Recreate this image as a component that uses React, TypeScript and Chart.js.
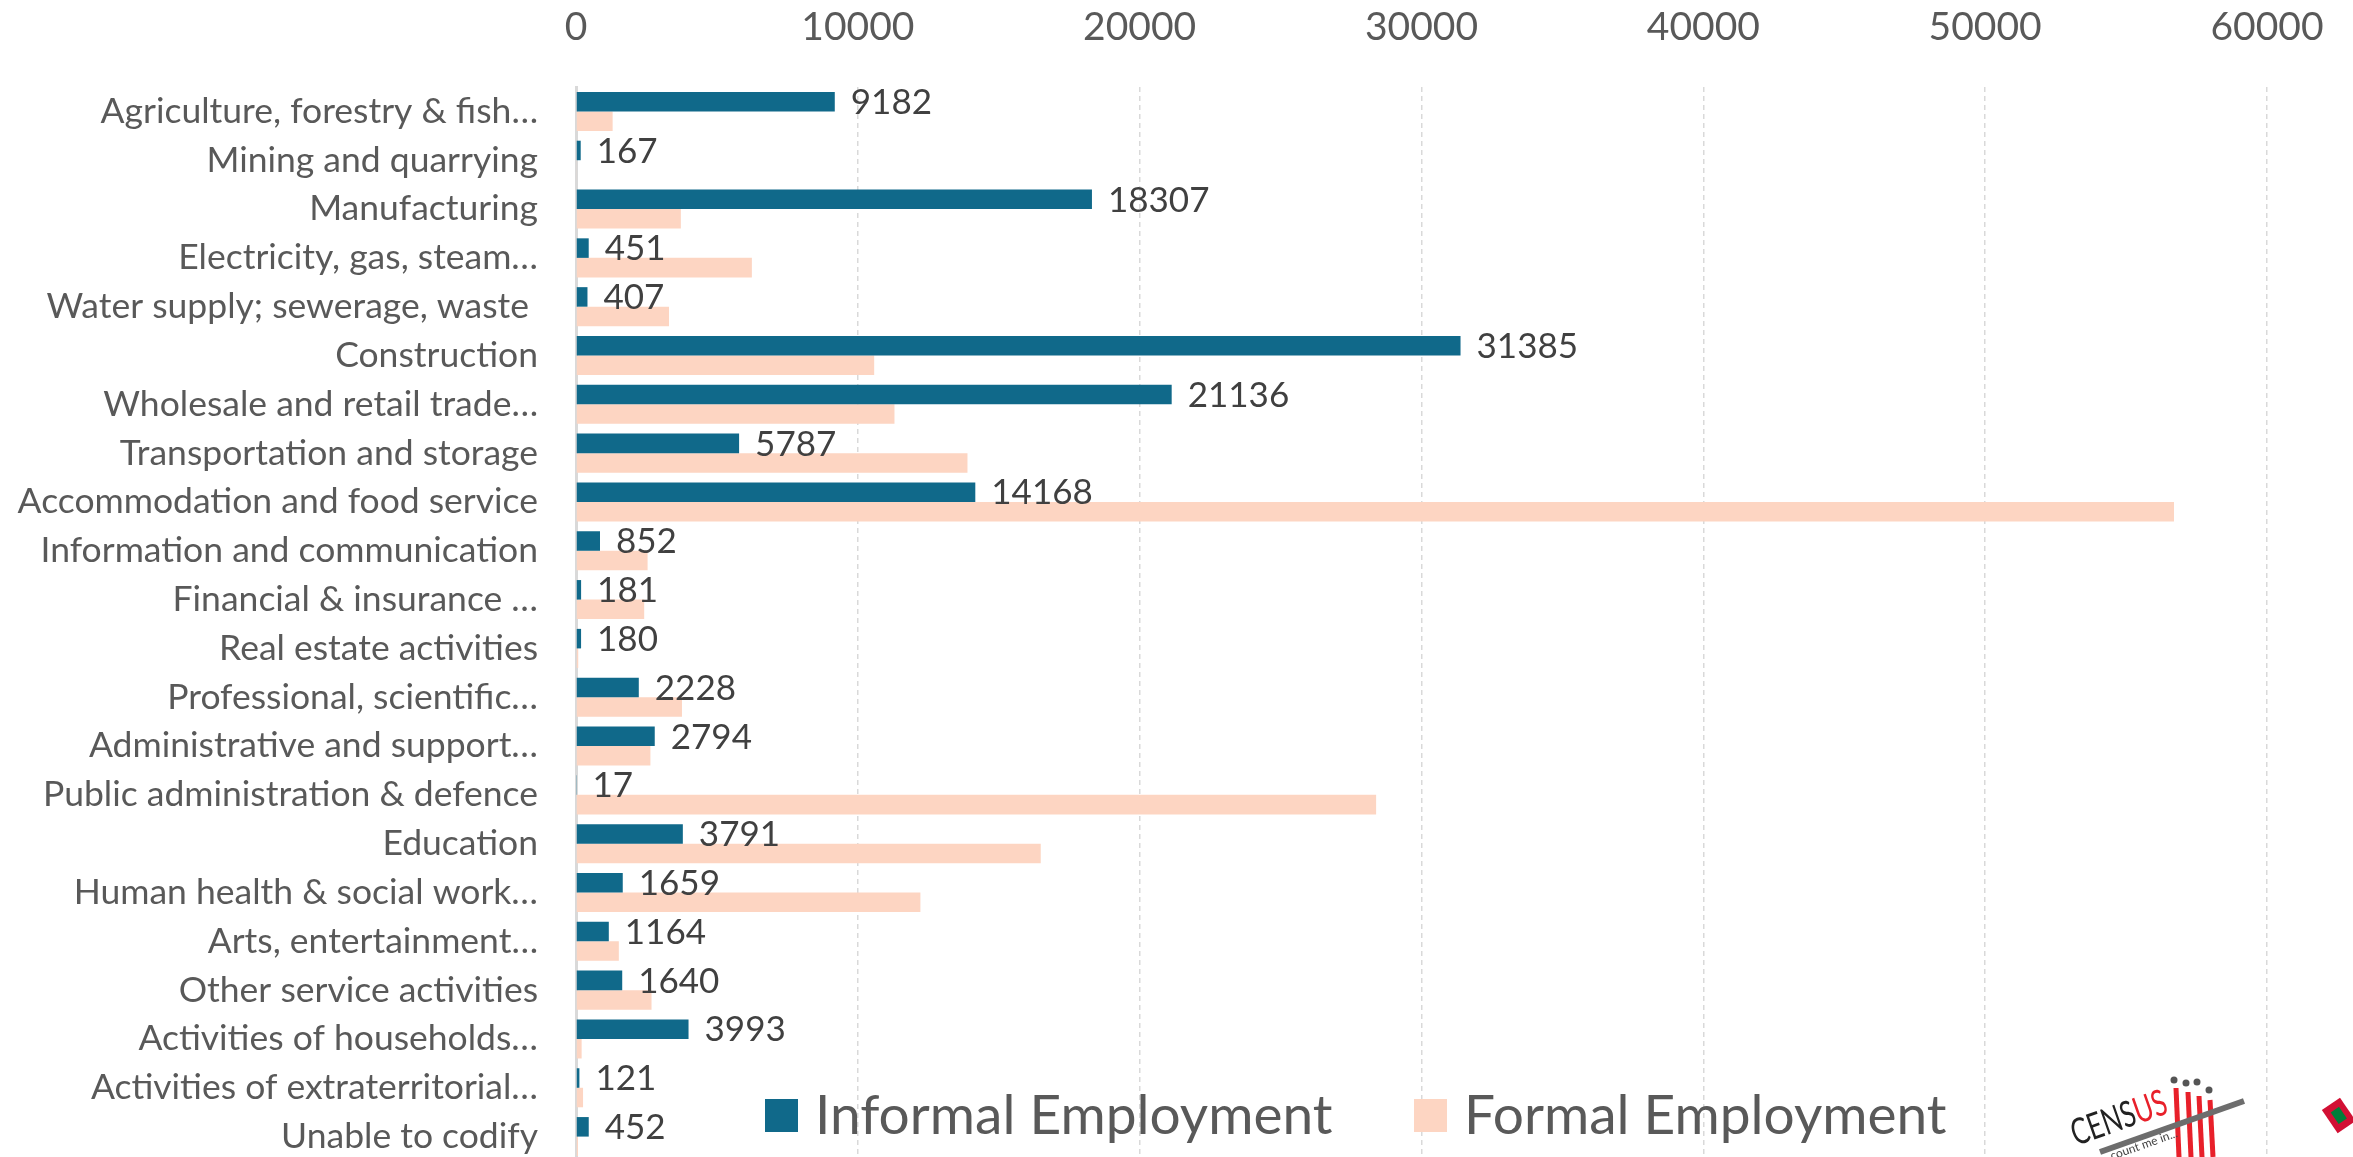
import React, { useEffect, useRef } from "react";
import { Chart, registerables } from "chart.js";

Chart.register(...registerables);

const categories = [
  "Agriculture, forestry & fish\u2026",
  "Mining and quarrying",
  "Manufacturing",
  "Electricity, gas, steam\u2026",
  "Water supply; sewerage, waste ",
  "Construction",
  "Wholesale and retail trade\u2026",
  "Transportation and storage",
  "Accommodation and food service",
  "Information and communication",
  "Financial & insurance \u2026",
  "Real estate activities",
  "Professional, scientific\u2026",
  "Administrative and support\u2026",
  "Public administration & defence",
  "Education",
  "Human health & social work\u2026",
  "Arts, entertainment\u2026",
  "Other service activities",
  "Activities of households\u2026",
  "Activities of extraterritorial\u2026",
  "Unable to codify",
];

const informalEmployment = [
  9182, 167, 18307, 451, 407, 31385, 21136, 5787, 14168, 852, 181, 180, 2228,
  2794, 17, 3791, 1659, 1164, 1640, 3993, 121, 452,
];

const formalEmployment = [
  1300, 30, 3720, 6240, 3300, 10580, 11300, 13890, 56700, 2540, 2420, 80, 3760,
  2640, 28390, 16490, 12220, 1520, 2680, 200, 250, 70,
];

const xTickValues = [0, 10000, 20000, 30000, 40000, 50000, 60000];
const seriesNames = ["Informal Employment", "Formal Employment"];

const FONT = "Lato, 'Open Sans', 'DejaVu Sans', sans-serif";
const BLUE = "#10698a";
const PEACH = "#fdd5c2";
const W = 2353;
const H = 1157;
const PLOT_BOTTOM = 1161;

// Lets the plot area run slightly past the bottom edge, as in the original.
const extendPlotPlugin = {
  id: "extendPlot",
  afterLayout(chart: any) {
    const y = chart.scales.y;
    chart.chartArea.bottom = PLOT_BOTTOM;
    chart.chartArea.height = PLOT_BOTTOM - chart.chartArea.top;
    y.bottom = PLOT_BOTTOM;
    y.height = PLOT_BOTTOM - y.top;
    y.configure();
  },
};

const dataLabelPlugin = {
  id: "dataLabels",
  afterDatasetsDraw(chart: any) {
    const ctx = chart.ctx;
    const meta = chart.getDatasetMeta(0);
    ctx.save();
    ctx.font = `35px ${FONT}`;
    ctx.fillStyle = "#404040";
    ctx.textAlign = "left";
    ctx.textBaseline = "middle";
    meta.data.forEach((el: any, i: number) => {
      const v = chart.data.datasets[0].data[i];
      ctx.fillText(String(v), el.x + 16, el.y + 1);
    });
    ctx.restore();
  },
};

const legendPlugin = {
  id: "customLegend",
  afterDraw(chart: any) {
    const ctx = chart.ctx;
    ctx.save();
    const items = [
      { x: 765, color: BLUE, text: seriesNames[0] },
      { x: 1414, color: PEACH, text: seriesNames[1] },
    ];
    ctx.font = `55px ${FONT}`;
    ctx.textBaseline = "middle";
    ctx.textAlign = "left";
    items.forEach((it) => {
      ctx.fillStyle = it.color;
      ctx.fillRect(it.x, 1099, 33, 33);
      ctx.fillStyle = "#595959";
      ctx.fillText(it.text, it.x + 50, 1116);
    });
    ctx.restore();
  },
};

const logoPlugin = {
  id: "logo",
  afterDraw(chart: any) {
    const ctx = chart.ctx;
    ctx.save();
    // red bars
    ctx.strokeStyle = "#e8202a";
    ctx.lineWidth = 5;
    [2176, 2188, 2199, 2210].forEach((x, i) => {
      ctx.beginPath();
      ctx.moveTo(x, 1088 + i * 4);
      ctx.lineTo(x + 3, 1157);
      ctx.stroke();
    });
    // grey swoosh
    ctx.strokeStyle = "#6d6d6d";
    ctx.lineWidth = 6;
    ctx.beginPath();
    ctx.moveTo(2100, 1152);
    ctx.lineTo(2244, 1101);
    ctx.stroke();
    // dots
    ctx.fillStyle = "#555";
    [
      [2174, 1080],
      [2186, 1083],
      [2197, 1082],
      [2209, 1090],
    ].forEach(([x, y]) => {
      ctx.beginPath();
      ctx.arc(x, y, 3.5, 0, Math.PI * 2);
      ctx.fill();
    });
    // text
    ctx.save();
    ctx.translate(2076, 1146);
    ctx.rotate(-0.34);
    ctx.scale(1, 1.4);
    ctx.font = `26px ${FONT}`;
    ctx.textBaseline = "alphabetic";
    ctx.fillStyle = "#222";
    ctx.fillText("CENS", 0, 0);
    const w = ctx.measureText("CENS").width;
    ctx.fillStyle = "#e8202a";
    ctx.fillText("US", w, 0);
    ctx.restore();
    ctx.save();
    ctx.translate(2112, 1160);
    ctx.rotate(-0.34);
    ctx.font = `12px ${FONT}`;
    ctx.fillStyle = "#444";
    ctx.fillText("count me in...", 0, 0);
    ctx.restore();
    // flag
    ctx.translate(2338, 1116);
    ctx.rotate(-0.6);
    ctx.fillStyle = "#d21034";
    ctx.fillRect(-10, -14, 22, 28);
    ctx.fillStyle = "#007e3a";
    ctx.fillRect(-4, -7, 10, 14);
    ctx.restore();
  },
};

export default function App() {
  const ref = useRef<HTMLCanvasElement | null>(null);

  useEffect(() => {
    document.body.style.margin = "0";
    document.body.style.overflow = "hidden";
    const canvas = ref.current;
    if (!canvas) return;
    const chart = new Chart(canvas, {
      type: "bar",
      data: {
        labels: categories,
        datasets: [
          {
            label: seriesNames[0],
            data: informalEmployment,
            backgroundColor: BLUE,
            categoryPercentage: 0.8,
            barPercentage: 1.0,
          },
          {
            label: seriesNames[1],
            data: formalEmployment,
            backgroundColor: PEACH,
            categoryPercentage: 0.8,
            barPercentage: 1.0,
          },
        ],
      },
      options: {
        indexAxis: "y",
        responsive: false,
        animation: false,
        devicePixelRatio: 1,
        layout: { padding: { left: 0, right: 86, top: 0, bottom: 0 } },
        plugins: {
          legend: { display: false },
          tooltip: { enabled: false },
        },
        scales: {
          x: {
            position: "top",
            min: 0,
            max: 60000,
            afterBuildTicks: (scale: any) => {
              scale.ticks = xTickValues.map((v) => ({ value: v }));
            },
            afterFit: (scale: any) => {
              scale.height = 87;
              scale.paddingLeft = 0;
              scale.paddingRight = 0;
            },
            ticks: {
              font: { family: FONT, size: 39 },
              color: "#595959",
              padding: 36,
              maxRotation: 0,
              autoSkip: false,
              callback: (v: any) => String(v),
            },
            grid: {
              color: "#d9d9d9",
              lineWidth: 1.5,
              drawTicks: false,
            },
            border: { display: false, dash: [5, 4] },
          },
          y: {
            afterFit: (scale: any) => {
              scale.width = 576;
              scale.paddingTop = 0;
              scale.paddingBottom = 0;
            },
            ticks: {
              font: { family: FONT, size: 35.5 },
              color: "#595959",
              padding: 38,
              autoSkip: false,
            },
            grid: { display: false, drawTicks: false },
            border: { display: true, color: "#d9d9d9", width: 3 },
          },
        },
      },
      plugins: [extendPlotPlugin, dataLabelPlugin, legendPlugin, logoPlugin],
    } as any);
    return () => chart.destroy();
  }, []);

  return (
    <canvas
      ref={ref}
      width={W}
      height={H}
      style={{ display: "block", width: W + "px", height: H + "px" }}
    />
  );
}
